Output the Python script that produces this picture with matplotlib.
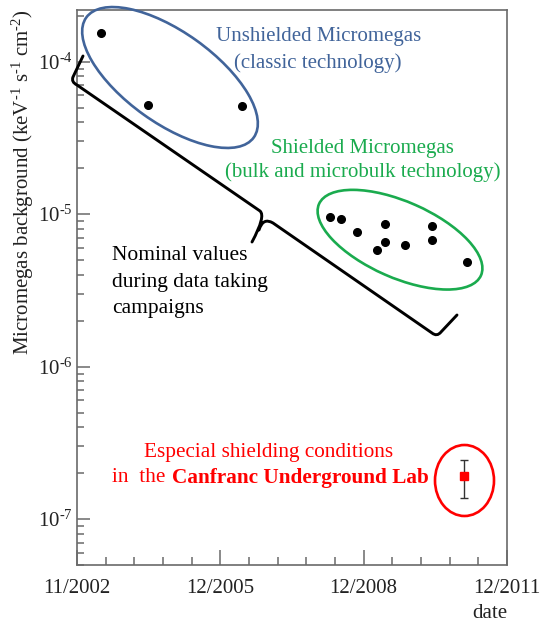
import matplotlib
matplotlib.use("Agg")
import matplotlib.pyplot as plt
from matplotlib.patches import Ellipse, PathPatch
from matplotlib.path import Path
from matplotlib.transforms import Affine2D
from matplotlib.ticker import LogLocator, NullFormatter, MultipleLocator, FuncFormatter
import math

plt.rcParams['font.family'] = ['Liberation Serif', 'DejaVu Serif']
plt.rcParams['mathtext.fontset'] = 'custom'
plt.rcParams['mathtext.rm'] = 'Liberation Serif'
plt.rcParams['mathtext.it'] = 'Liberation Serif:italic'
plt.rcParams['mathtext.bf'] = 'Liberation Serif:bold'

# x = years since 11/2002
unshielded_t = [0.50, 1.48, 3.46]
unshielded_bkg = [1.54e-4, 5.2e-5, 5.15e-5]

shielded_t = [5.30, 5.53, 5.87, 6.45, 6.45, 6.28, 6.86, 7.44, 7.44, 8.16]
shielded_bkg = [9.6e-6, 9.35e-6, 7.66e-6, 8.6e-6, 6.6e-6, 5.8e-6, 6.3e-6, 8.3e-6, 6.8e-6, 4.83e-6]

canfranc_t = [8.11]
canfranc_bkg = [1.92e-7]
canfranc_lo = [0.55e-7]
canfranc_hi = [0.53e-7]

tick_pos = [0, 3, 6, 9]
tick_labels = ['11/2002', '12/2005', '12/2008', '12/2011']

W, H = 542, 623
fig = plt.figure(figsize=(W / 100, H / 100), dpi=100)
ax = fig.add_axes([77 / W, 1 - 565 / H, 430 / W, 555 / H])

# pixel coordinates (y down) for the hand-drawn annotations
px = Affine2D().scale(1 / 100, -1 / 100).translate(0, H / 100) + fig.dpi_scale_trans

ax.plot(unshielded_t, unshielded_bkg, 'o', color='black', ms=5.5, zorder=5)
ax.plot(shielded_t, shielded_bkg, 'o', color='black', ms=5.5, zorder=5)
ax.errorbar(canfranc_t, canfranc_bkg, yerr=[canfranc_lo, canfranc_hi], fmt='s',
            color='red', ms=5.5, ecolor='#333333', elinewidth=1.0, capsize=3,
            capthick=1.0, zorder=5)

ax.set_yscale('log')
ax.set_xlim(0, 9)
ax.set_ylim(5.0e-8, 2.18e-4)
ax.set_xticks(tick_pos)
ax.set_xticklabels(tick_labels)
ax.xaxis.set_minor_locator(MultipleLocator(0.6))
ax.yaxis.set_major_locator(LogLocator(base=10, numticks=10))
ax.yaxis.set_major_formatter(FuncFormatter(
    lambda v, p: r'10$^{\text{-}%d}$' % round(-math.log10(v))))
ax.yaxis.set_minor_locator(LogLocator(base=10, subs=range(2, 10), numticks=20))
ax.yaxis.set_minor_formatter(NullFormatter())

spine_col = '#6a6a6a'
for s in ax.spines.values():
    s.set_color(spine_col)
    s.set_linewidth(1.2)
ax.tick_params(axis='both', which='both', direction='in', colors=spine_col,
               labelcolor='#222222', width=1.1, top=False, right=False)
ax.tick_params(axis='x', which='major', length=11, labelsize=15, pad=10)
ax.tick_params(axis='x', which='minor', length=6)
ax.tick_params(axis='y', which='major', length=9.5, labelsize=15, pad=3)
ax.tick_params(axis='y', which='minor', length=5)

fig.text(23, 182, r'Micromegas background (keV$^{\text{-}1}$ s$^{\text{-}1}$ cm$^{\text{-}2}$)',
         transform=px, rotation=90, ha='center', va='center', fontsize=15,
         color='#222222')
fig.text(490, 614, 'date', transform=px, ha='center', va='center',
         fontsize=15, color='#222222')

blue = '#41649a'
green = '#1aab4e'
red = '#ff0000'

fig.add_artist(Ellipse((170, 77.5), 206, 91, angle=35.6, transform=px,
                       fill=False, ec=blue, lw=1.9))
fig.add_artist(Ellipse((400, 239.7), 177, 76, angle=23.8, transform=px,
                       fill=False, ec=green, lw=1.9))
fig.add_artist(Ellipse((464.5, 480.5), 59, 71, transform=px,
                       fill=False, ec=red, lw=1.9))

brace = [
    (Path.MOVETO, (83, 56)), (Path.LINETO, (73, 77)),
    (Path.CURVE3, (71, 82)), (Path.CURVE3, (77, 85)),
    (Path.LINETO, (260, 211)),
    (Path.CURVE3, (266, 216)), (Path.CURVE3, (252, 242)),
    (Path.MOVETO, (259, 230)),
    (Path.CURVE3, (263, 217)), (Path.CURVE3, (273, 223)),
    (Path.LINETO, (432, 333)),
    (Path.CURVE3, (437, 337)), (Path.CURVE3, (441, 332)),
    (Path.LINETO, (457, 315)),
]
codes, verts = zip(*brace)
fig.add_artist(PathPatch(Path(verts, codes), transform=px, fill=False,
                         ec='black', lw=2.1, capstyle='round', joinstyle='round'))

fig.text(319, 37, 'Unshielded Micromegas', transform=px, ha='center',
         va='center', fontsize=15, color=blue)
fig.text(318, 63, '(classic technology)', transform=px, ha='center',
         va='center', fontsize=15, color=blue)
fig.text(362, 148, 'Shielded Micromegas', transform=px, ha='center',
         va='center', fontsize=15, color=green)
fig.text(363, 172, '(bulk and microbulk technology)', transform=px,
         ha='center', va='center', fontsize=15, color=green)
for i, line in enumerate(['Nominal values', 'during data taking', 'campaigns']):
    fig.text(112, 256 + 26 * i, line, transform=px, ha='left', va='center',
             fontsize=15.5, color='black')
fig.text(269, 452, 'Especial shielding conditions', transform=px, ha='center',
         va='center', fontsize=15.3, color=red)
fig.text(171, 478, 'in  the ', transform=px, ha='right', va='center',
         fontsize=15.3, color=red)
fig.text(172, 478, 'Canfranc Underground Lab', transform=px, ha='left',
         va='center', fontsize=15.3, color=red, fontweight='bold')

fig.savefig('out.png', dpi=100)
